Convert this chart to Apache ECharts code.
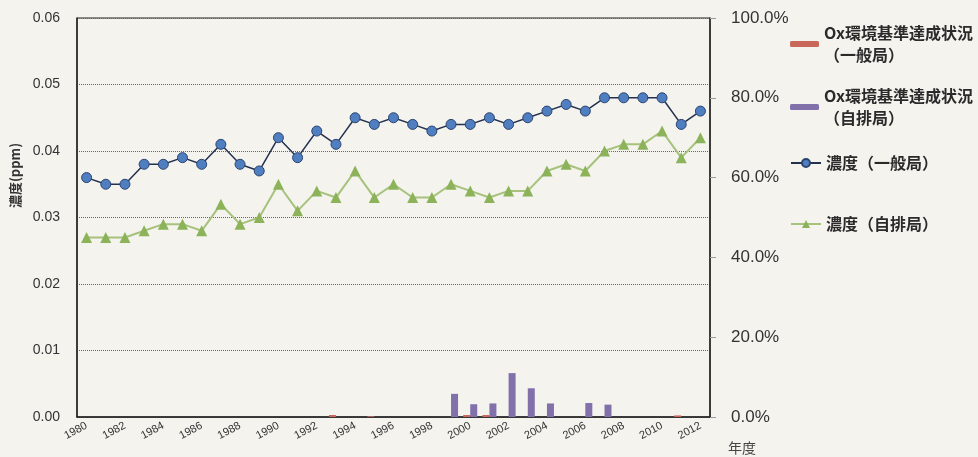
<!DOCTYPE html>
<html>
<head>
<meta charset="utf-8">
<script src="https://cdn.jsdelivr.net/npm/echarts@6/dist/echarts.min.js"></script>
<style>
html,body{margin:0;padding:0;background:#f4f3ee;}
#chart{width:978px;height:457px;}
</style>
</head>
<body>
<div id="chart"></div>
<script>
const years = ['1980','1981','1982','1983','1984','1985','1986','1987','1988','1989','1990','1991','1992','1993','1994','1995','1996','1997','1998','1999','2000','2001','2002','2003','2004','2005','2006','2007','2008','2009','2010','2011','2012'];
const concGeneral = [0.036,0.035,0.035,0.038,0.038,0.039,0.038,0.041,0.038,0.037,0.042,0.039,0.043,0.041,0.045,0.044,0.045,0.044,0.043,0.044,0.044,0.045,0.044,0.045,0.046,0.047,0.046,0.048,0.048,0.048,0.048,0.044,0.046];
const concRoadside = [0.027,0.027,0.027,0.028,0.029,0.029,0.028,0.032,0.029,0.030,0.035,0.031,0.034,0.033,0.037,0.033,0.035,0.033,0.033,0.035,0.034,0.033,0.034,0.034,0.037,0.038,0.037,0.040,0.041,0.041,0.043,0.039,0.042];
const rateGeneral = [0,0,0,0,0,0,0,0,0,0,0,0,0,0.5,0,0.2,0,0,0,0,0.5,0.5,0,0,0,0,0,0,0,0,0,0.4,0];
const rateRoadside = [0,0,0,0,0,0,0,0,0,0,0,0,0,0,0,0,0,0,0,5.8,3.2,3.4,11,7.2,3.4,0,3.5,3.1,0,0,0,0,0];
const leftTicks = [0,0.01,0.02,0.03,0.04,0.05,0.06];
const rightTicks = [0,20,40,60,80,100];

const nameRateG = 'Ox環境基準達成状況（一般局）';
const nameRateR = 'Ox環境基準達成状況（自排局）';
const nameConcG = '濃度（一般局）';
const nameConcR = '濃度（自排局）';

const FONT = '"Liberation Sans", Arial, "Noto Sans CJK JP", sans-serif';
const CJK = '"Noto Sans CJK JP", "Liberation Sans", sans-serif';

const chart = echarts.init(document.getElementById('chart'));
function twoLine(n){ return n.replace('（', '\n（'); }
const legendBase = {
  orient: 'vertical', left: 785, itemGap: 0,
  selectedMode: false,
  textStyle: {fontFamily: CJK, fontSize: 16, color: '#2a2a2a', fontWeight: 'bold'}
};
chart.setOption({
  backgroundColor: '#f4f3ee',
  animation: false,
  legend: [
    Object.assign({}, legendBase, {data:[nameRateG], top: 6, itemWidth: 29, itemHeight: 6, formatter: twoLine,
      textStyle: Object.assign({}, legendBase.textStyle, {lineHeight: 22, padding:[22,0,0,0]})}),
    Object.assign({}, legendBase, {data:[nameRateR], top: 69, itemWidth: 29, itemHeight: 6, formatter: twoLine,
      textStyle: Object.assign({}, legendBase.textStyle, {lineHeight: 22, padding:[22,0,0,0]})}),
    Object.assign({}, legendBase, {data:[nameConcG], top: 150, itemWidth: 30, itemHeight: 10}),
    Object.assign({}, legendBase, {data:[nameConcR], top: 211, itemWidth: 30, itemHeight: 10})
  ],
  grid: {left: 77, right: 268, top: 18, bottom: 40, show: true, borderColor: '#222', borderWidth: 1, backgroundColor: 'transparent'},
  xAxis: {
    type: 'category', data: years, boundaryGap: true,
    name: '年度', nameLocation: 'end', nameGap: 18,
    nameTextStyle: {fontFamily: CJK, fontSize: 14, color: '#444', verticalAlign: 'top', padding: [24,0,0,0]},
    axisLine: {lineStyle: {color: '#222', width: 1.5}},
    axisTick: {inside: true, length: 4, interval: 0, lineStyle: {color: '#444'}},
    axisLabel: {interval: 1, rotate: 28, fontSize: 11, color: '#333', fontFamily: FONT, margin: 8}
  },
  yAxis: [
    {
      type: 'value', min: 0, max: 0.06, interval: 0.01,
      name: '濃度(ppm)', nameLocation: 'middle', nameGap: 52, nameRotate: 90,
      nameTextStyle: {fontFamily: CJK, fontSize: 13, color: '#333', fontWeight: 'bold', padding: [0,0,0,84]},
      axisLine: {show: true, lineStyle: {color: '#222', width: 1.5}},
      axisTick: {show: false},
      axisLabel: {formatter: v => v.toFixed(2), fontSize: 14, color: '#333', fontFamily: FONT, margin: 17},
      splitLine: {show: true, lineStyle: {color: '#666', type: 'dotted', width: 1}}
    },
    {
      type: 'value', min: 0, max: 100, interval: 20, position: 'right',
      axisLine: {show: true, lineStyle: {color: '#222', width: 1.5}},
      axisTick: {show: true, length: 6, lineStyle: {color: '#999'}},
      axisLabel: {formatter: v => v.toFixed(1) + '%', fontSize: 17, color: '#333', fontFamily: FONT, margin: 21},
      splitLine: {show: false}
    }
  ],
  series: [
    {name: nameRateG, type: 'bar', yAxisIndex: 1, data: rateGeneral, barWidth: 7, barGap: '0%',
      itemStyle: {color: '#c8675a'}},
    {name: nameRateR, type: 'bar', yAxisIndex: 1, data: rateRoadside, barWidth: 7, barGap: '0%',
      itemStyle: {color: '#8270ab'}},
    {name: nameConcG, type: 'line', yAxisIndex: 0, data: concGeneral, z: 5,
      symbol: 'circle', symbolSize: 10,
      lineStyle: {color: '#23314f', width: 1.5},
      itemStyle: {color: '#4f7fc0', borderColor: '#2c4470', borderWidth: 1}},
    {name: nameConcR, type: 'line', yAxisIndex: 0, data: concRoadside, z: 4,
      symbol: 'triangle', symbolSize: 11,
      lineStyle: {color: '#a6c27c', width: 2},
      itemStyle: {color: '#8cb35a', borderColor: '#8cb35a', borderWidth: 0}}
  ]
});
</script>
</body>
</html>
